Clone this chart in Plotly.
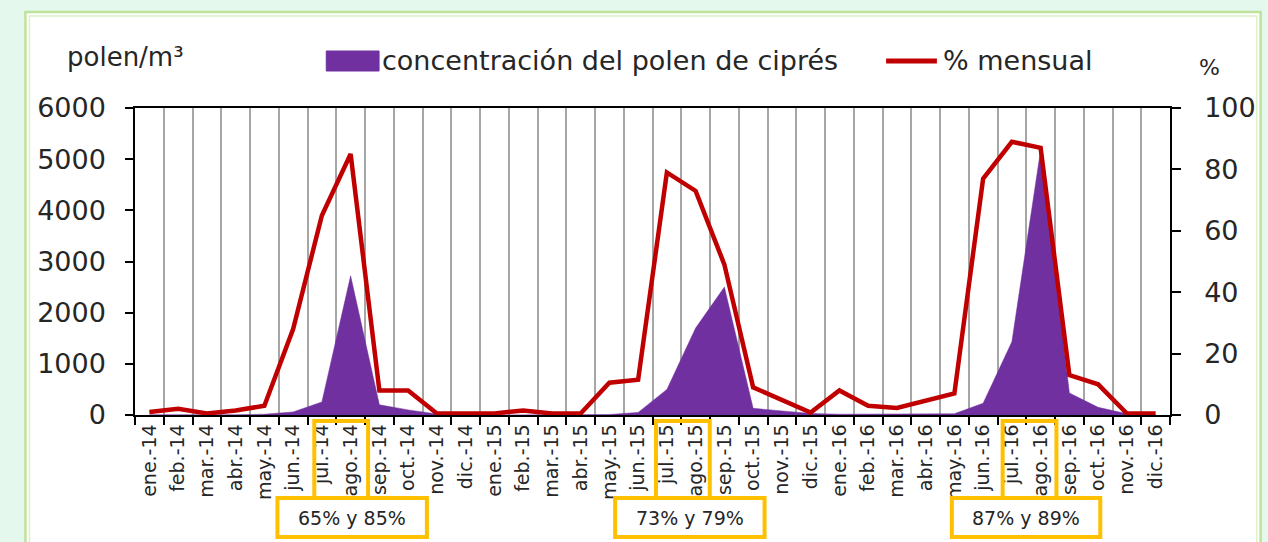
import plotly.graph_objects as go

# ---------------- data ----------------
months = ["ene.", "feb.", "mar.", "abr.", "may.", "jun.", "jul.", "ago.", "sep.", "oct.", "nov.", "dic."]
years = ["14", "15", "16"]
categories = [f"{m}-{y}" for y in years for m in months]

polen_2014 = [5, 5, 0, 5, 15, 60, 255, 2720, 200, 100, 20, 0]
polen_2015 = [0, 0, 0, 0, 10, 50, 500, 1700, 2500, 130, 80, 30]
polen_2016 = [15, 15, 15, 15, 25, 230, 1430, 5180, 430, 150, 25, 0]
polen = polen_2014 + polen_2015 + polen_2016

pct_2014 = [1, 2, 0.5, 1.5, 3, 28, 65, 85, 8, 8, 0.5, 0.5]
pct_2015 = [0.5, 1.5, 0.5, 0.5, 10.5, 11.5, 79, 73, 49, 9, 5, 0.8]
pct_2016 = [8, 3, 2.3, 4.5, 7, 77, 89, 87, 13, 10, 0.5, 0.5]
pct = pct_2014 + pct_2015 + pct_2016

box_labels = ["65% y 85%", "73% y 79%", "87% y 89%"]

# ---------------- layout geometry ----------------
W, Hh = 1268, 542
L, R, T, B = 135, 1174, 108, 415
PW, PH = R - L, B - T

def px(x):
    return (x - L) / PW

def py(y):
    return (B - y) / PH

PURPLE = "#7030A0"
RED = "#C00000"
YELLOW = "#FFC000"
TXT = "#262626"
FONT = "DejaVu Sans"

fig = go.Figure()
fig.add_trace(go.Scatter(
    x=categories, y=polen, mode="lines", fill="tozeroy",
    fillcolor=PURPLE, line=dict(color=PURPLE, width=0.5),
    name="concentración del polen de ciprés", showlegend=False,
))
fig.add_trace(go.Scatter(
    x=categories, y=pct, mode="lines", yaxis="y2",
    line=dict(color=RED, width=4.5),
    name="% mensual", showlegend=False,
))

shapes = []
annotations = []

# outer frame (double green border on white)
shapes.append(dict(type="rect", xref="paper", yref="paper", layer="below",
                   x0=px(25), x1=px(1265), y0=py(560), y1=py(12),
                   fillcolor="white", line=dict(color="#BFE39A", width=2.5)))
shapes.append(dict(type="rect", xref="paper", yref="paper", layer="below",
                   x0=px(29), x1=px(1261), y0=py(560), y1=py(16),
                   fillcolor="white", line=dict(color="#DDF0C8", width=1.5)))

# legend (manual)
shapes.append(dict(type="rect", xref="paper", yref="paper",
                   x0=px(327), x1=px(380), y0=py(71), y1=py(51),
                   fillcolor=PURPLE, line=dict(color=PURPLE, width=1)))
annotations.append(dict(xref="paper", yref="paper", x=px(381), y=py(61),
                        text="concentración del polen de ciprés", showarrow=False,
                        xanchor="left", yanchor="middle",
                        font=dict(family=FONT, size=27, color=TXT)))
shapes.append(dict(type="line", xref="paper", yref="paper",
                   x0=px(889), x1=px(940), y0=py(61), y1=py(61),
                   line=dict(color=RED, width=5)))
annotations.append(dict(xref="paper", yref="paper", x=px(944), y=py(61),
                        text="% mensual", showarrow=False,
                        xanchor="left", yanchor="middle",
                        font=dict(family=FONT, size=27, color=TXT)))

# axis titles
annotations.append(dict(xref="paper", yref="paper", x=px(125), y=py(57),
                        text="polen/m³", showarrow=False,
                        xanchor="center", yanchor="middle",
                        font=dict(family=FONT, size=26, color=TXT)))
annotations.append(dict(xref="paper", yref="paper", x=px(1214), y=py(68),
                        text="%", showarrow=False,
                        xanchor="center", yanchor="middle",
                        font=dict(family=FONT, size=22, color=TXT)))

# highlight boxes (pixel positions measured)
small_boxes = [(315, 369), (658, 712), (1006, 1060)]
big_boxes = [(278, 428), (617, 767), (955, 1104)]
for (sx0, sx1), (bx0, bx1), lab in zip(small_boxes, big_boxes, box_labels):
    shapes.append(dict(type="rect", xref="paper", yref="paper",
                       x0=px(sx0), x1=px(sx1), y0=py(498), y1=py(421),
                       line=dict(color=YELLOW, width=4)))
    shapes.append(dict(type="rect", xref="paper", yref="paper",
                       x0=px(bx0), x1=px(bx1), y0=py(537), y1=py(498),
                       fillcolor="white", line=dict(color=YELLOW, width=4)))
    annotations.append(dict(xref="paper", yref="paper",
                            x=px((bx0 + bx1) / 2), y=py(518),
                            text=lab, showarrow=False,
                            xanchor="center", yanchor="middle",
                            font=dict(family=FONT, size=19, color=TXT)))

fig.update_layout(
    width=W, height=Hh,
    margin=dict(l=L, r=W - R, t=T, b=Hh - B, pad=0),
    paper_bgcolor="#E4F8EE",
    plot_bgcolor="white",
    showlegend=False,
    shapes=shapes,
    annotations=annotations,
    xaxis=dict(
        type="category", categoryorder="array", categoryarray=categories,
        range=[-0.5, len(categories) - 0.5],
        tickson="boundaries", showgrid=True, gridcolor="#A6A6A6", gridwidth=1.5,
        ticks="outside", ticklen=8, tickwidth=1.5, tickcolor="black",
        showline=True, linecolor="black", linewidth=1.5, mirror=True,
        tickangle=-90, tickfont=dict(family=FONT, size=19, color=TXT),
        zeroline=False,
    ),
    yaxis=dict(
        range=[0, 6000], dtick=1000, tick0=0,
        showgrid=False, zeroline=False,
        ticks="outside", ticklen=8, tickwidth=1.5, tickcolor="black",
        showline=True, linecolor="black", linewidth=1.5,
        tickfont=dict(family=FONT, size=27, color=TXT),
        ticklabelstandoff=14,
    ),
    yaxis2=dict(
        range=[0, 100], dtick=20, tick0=0, overlaying="y", side="right",
        showgrid=False, zeroline=False,
        ticks="outside", ticklen=9, tickwidth=1.5, tickcolor="black",
        showline=True, linecolor="black", linewidth=1.5,
        tickfont=dict(family=FONT, size=27, color=TXT),
        ticklabelstandoff=18,
    ),
)

fig.write_html(
    "out.html",
    config={"displayModeBar": False},
    post_script="document.body.style.margin='0';document.body.style.padding='0';",
)
